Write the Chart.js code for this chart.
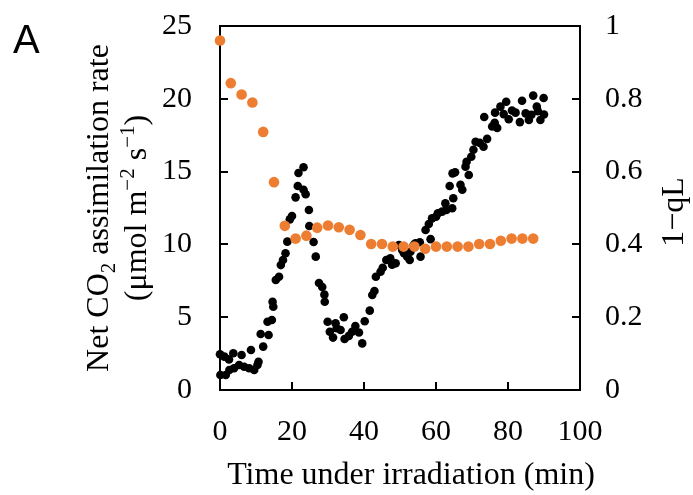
<!DOCTYPE html>
<html>
<head>
<meta charset="utf-8">
<script src="https://cdn.jsdelivr.net/npm/chart.js@4.4.1/dist/chart.umd.min.js"></script>
<style>
  body { margin: 0; background: #fff; }
  #wrap { width: 693px; height: 495px; }
</style>
</head>
<body>
<div id="wrap"><canvas id="chart" width="693" height="495"></canvas></div>
<script>
"use strict";

// 1-qL (right axis), orange
const qlTime = [0, 3, 6, 9, 12, 15, 18, 21, 24, 27, 30, 33, 36, 39, 42, 45, 48, 51, 54, 57, 60, 63, 66, 69, 72, 75, 78, 81, 84, 87];
const qlValues = [0.96, 0.843, 0.812, 0.79, 0.709, 0.571, 0.451, 0.416, 0.424, 0.446, 0.452, 0.447, 0.44, 0.426, 0.401,
  0.401, 0.394, 0.394, 0.394, 0.388, 0.394, 0.394, 0.394, 0.394, 0.401, 0.401, 0.41, 0.416, 0.416, 0.416];

// Net CO2 assimilation (left axis), black
const co2Time = [0, 0.1, 1.2, 1.6, 2.5, 2.6, 3.7, 3.9, 5.3, 6, 6.7, 8.1, 8.6, 9.5, 10.4, 10.7, 11.3, 12, 13.2, 13.5,
  14.4, 14.6, 14.8, 15.5, 16.4, 16.9, 17.5, 18.2, 18.7, 19.4, 20, 21, 21.6, 21.8, 23.2, 23.2, 23.8, 24.7, 24.8, 26,
  26.6, 27.5, 28.4, 29, 29.1, 29.9, 30.5, 31.4, 32.1, 32.4, 33.5, 34.4, 34.6, 35.8, 36.7, 37.6, 38.6, 39.5, 40.2, 41.6,
  42.3, 42.9, 43.3, 44.6, 45.2, 46.2, 47.3, 47.8, 48.8, 49.7, 50.6, 51.1, 52, 52.7, 52.9, 53.8, 54.3, 55.5, 55.7, 57.1,
  58, 58.5, 58.9, 60, 60.5, 61.7, 62.6, 62.9, 63.8, 64.5, 64.6, 64.8, 65.3, 66.8, 67.3, 68.2, 68.5, 69.1, 69.8, 70.4,
  71, 72.2, 73.2, 73.4, 74.2, 75.6, 76.3, 76.4, 77, 77.9, 78.8, 79.5, 80.2, 81.1, 82.1, 83.3, 83.9, 84.9, 85.8, 86.5,
  87, 88, 88.3, 89, 89.9, 90];
const co2Values = [2.45, 1.03, 2.29, 1.03, 2.1, 1.37, 2.52, 1.49, 1.72, 2.4, 1.6, 1.49, 2.75, 1.37, 1.72, 1.94, 3.85, 2.98, 4.69, 3.78,
  4.81, 6.06, 5.72, 7.55, 7.78, 8.58, 8.93, 9.39, 10.19, 11.72, 11.95, 13.23, 14.01, 14.9, 15.3, 13.75, 13.45, 12.36, 11.26, 10.16,
  9.16, 7.35, 7.07, 6.55, 6.06, 4.69, 4, 3.6, 4.58, 4.24, 4.12, 5, 3.5, 3.72, 4, 4.4, 3.95, 3.2, 4.72, 5.45,
  6.52, 6.8, 7.78, 8.12, 8.4, 8.93, 9.04, 8.6, 8.7, 9.96, 9.62, 9.39, 9.16, 8.93, 9.5, 9.96, 10.07, 10.15, 9.16, 10.99,
  11.4, 10.36, 11.79, 11.9, 12.13, 12.25, 12.82, 12.36, 14.01, 12.48, 14.88, 13.17, 14.95, 14.1, 13.75, 15.34, 15.68, 14.77, 16.02, 16.5,
  17.05, 16.97, 16.71, 18.75, 17.25, 18.1, 18.35, 19.05, 18, 19.46, 18.95, 19.8, 18.6, 19.2, 19.05, 18.4, 19.87, 19, 18.55, 18.9,
  20.22, 19.46, 19.15, 18.54, 20.05, 18.92];

const xTicksStep = 20;
const leftTicksStep = 5;
const rightTicksStep = 0.2;

const serif = "'Liberation Serif', 'Times New Roman', serif";

// draws top border, inward ticks and all titles
const decorations = {
  id: "decorations",
  afterDraw(chart) {
    const { ctx, chartArea: a, scales } = chart;
    ctx.save();
    ctx.strokeStyle = "#000";
    ctx.lineWidth = 2;
    ctx.beginPath();
    ctx.moveTo(a.left - 1, a.top);
    ctx.lineTo(a.right + 1, a.top);
    ctx.stroke();

    const len = 8;
    ctx.beginPath();
    scales.x.ticks.forEach((t, i) => {
      const px = Math.round(scales.x.getPixelForTick(i));
      ctx.moveTo(px, a.bottom);
      ctx.lineTo(px, a.bottom - len);
    });
    scales.y.ticks.forEach((t, i) => {
      const py = Math.round(scales.y.getPixelForTick(i));
      ctx.moveTo(a.left, py);
      ctx.lineTo(a.left + len, py);
    });
    scales.y1.ticks.forEach((t, i) => {
      const py = Math.round(scales.y1.getPixelForTick(i));
      ctx.moveTo(a.right, py);
      ctx.lineTo(a.right - len, py);
    });
    ctx.stroke();

    ctx.fillStyle = "#000";
    // panel letter
    ctx.font = "40px 'Liberation Sans', Arial, sans-serif";
    ctx.textAlign = "left";
    ctx.textBaseline = "alphabetic";
    ctx.fillText("A", 13, 53);

    // x title
    ctx.font = `32px ${serif}`;
    ctx.textAlign = "center";
    ctx.fillText("Time under irradiation (min)", (a.left + a.right) / 2 + 11, a.bottom + 94);

    // rotated titles, drawn as rich text pieces [text, size, shift]
    const drawRich = (pieces, centerY, baseX) => {
      ctx.save();
      ctx.translate(0, centerY);
      ctx.rotate(-Math.PI / 2);
      ctx.textAlign = "left";
      let w = 0;
      pieces.forEach(p => { ctx.font = `${p[1]}px ${serif}`; w += ctx.measureText(p[0]).width; });
      let x = -w / 2;
      pieces.forEach(p => {
        ctx.font = `${p[1]}px ${serif}`;
        ctx.fillText(p[0], x, baseX + p[2]);
        x += ctx.measureText(p[0]).width;
      });
      ctx.restore();
    };
    const midY = (a.top + a.bottom) / 2;
    drawRich([["Net CO", 32, 0], ["2", 21, 7], [" assimilation rate", 32, 0]], midY, a.left - 112);
    drawRich([["(μmol m", 32, 0], ["−2", 21, -12], [" s", 32, 0], ["−1", 21, -12], [")", 32, 0]], midY, a.left - 74);
    drawRich([["1−qL", 32, 0]], midY + 4, a.right + 103);
    ctx.restore();
  }
};

const tickFont = { family: serif, size: 30 };

// drop the room Chart.js keeps for the end labels so the plot box sits where the reference has it
const noEdgePadding = s => { s.paddingTop = 0; s.paddingBottom = 0; s.paddingLeft = 0; s.paddingRight = 0; };

new Chart(document.getElementById("chart"), {
  type: "scatter",
  data: {
    datasets: [
      {
        label: "1-qL",
        data: qlTime.map((t, i) => ({ x: t, y: qlValues[i] })),
        yAxisID: "y1",
        backgroundColor: "#ED7D31",
        borderWidth: 0,
        pointRadius: 5.3,
        clip: false
      },
      {
        label: "Net CO2 assimilation rate",
        data: co2Time.map((t, i) => ({ x: t, y: co2Values[i] })),
        yAxisID: "y",
        backgroundColor: "#000",
        borderWidth: 0,
        pointRadius: 4.3,
        clip: false
      }
    ]
  },
  options: {
    responsive: false,
    animation: false,
    layout: { padding: { top: 26, left: 0, right: 0, bottom: 0 } },
    plugins: { legend: { display: false }, tooltip: { enabled: false } },
    scales: {
      x: {
        type: "linear", min: 0, max: 100,
        ticks: { stepSize: xTicksStep, font: tickFont, color: "#000", padding: 24, maxRotation: 0 },
        grid: { display: false, drawTicks: false },
        border: { color: "#000", width: 2 },
        afterFit: s => { s.height = 105; noEdgePadding(s); }
      },
      y: {
        position: "left", min: 0, max: 25,
        ticks: { stepSize: leftTicksStep, font: tickFont, color: "#000", padding: 28 },
        grid: { display: false, drawTicks: false },
        border: { color: "#000", width: 2 },
        afterFit: s => { s.width = 220; noEdgePadding(s); }
      },
      y1: {
        position: "right", min: 0, max: 1,
        ticks: {
          stepSize: rightTicksStep, font: tickFont, color: "#000", padding: 25,
          callback: v => String(Number(v.toFixed(1)))
        },
        grid: { display: false, drawTicks: false },
        border: { color: "#000", width: 2 },
        afterFit: s => { s.width = 113; noEdgePadding(s); }
      }
    }
  },
  plugins: [decorations]
});
</script>
</body>
</html>
